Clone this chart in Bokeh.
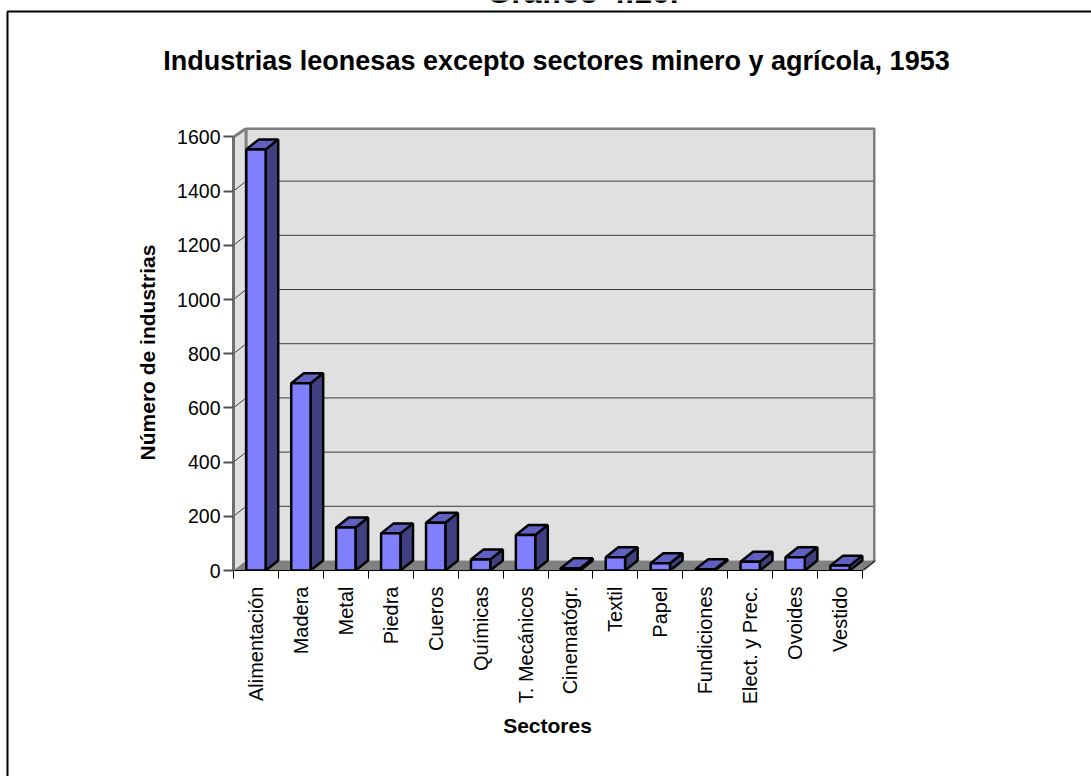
from math import pi

from bokeh.plotting import figure
from bokeh.models import Range1d, LinearAxis, FixedTicker
from bokeh.core.properties import value
from bokeh.embed import file_html
from bokeh.resources import INLINE

FONT = "Liberation Sans"

sectors = ["Alimentación", "Madera", "Metal", "Piedra", "Cueros", "Químicas", "T. Mecánicos",
           "Cinematógr.", "Textil", "Papel", "Fundiciones", "Elect. y Prec.", "Ovoides", "Vestido"]
industries = [1554, 691, 159, 137, 176, 41, 131, 8, 49, 27, 5, 32, 49, 18]
y_ticks = [0, 200, 400, 600, 800, 1000, 1200, 1400, 1600]

W, H = 1091, 776

# Pixel geometry of the pseudo-3D plot box
LEFT, RIGHT, TOP, BOTTOM = 233, 875, 127, 570.5
px_per_cat = 44.93
px_per_val = 0.2713
depth_x = 12.6 / px_per_cat       # receding offset, in category units
depth_y = 10.0 / px_per_val       # receding offset, in value units
bar_w = 0.43

n = len(sectors)
x_end = (RIGHT - LEFT) / px_per_cat
y_end = (BOTTOM - TOP) / px_per_val

# Page layer: sheet edges, caption, chart title and axis titles, in page pixels
page = figure(width=W, height=H, output_backend="svg", toolbar_location=None,
              x_range=Range1d(0, W), y_range=Range1d(H, 0),
              x_axis_type=None, y_axis_type=None, min_border=0,
              outline_line_color=None, background_fill_color="white", border_fill_color="white")
page.grid.visible = False
page.line([7, 7, W], [H, 11, 11], line_color="black", line_width=2)


def page_text(x, y, text, size, angle=0):
    page.text([x], [y], text=[text], text_font=value(FONT), text_font_size=size, angle=angle,
              text_font_style="bold", text_align="center", text_baseline="middle", text_color="black")


page.text([582], [-9], text=["Gráfico 4.16."], text_font=value(FONT), text_font_size="32px",
          text_font_style="bold", text_align="center", text_baseline="alphabetic", text_color="black")
page_text(556, 60, "Industrias leonesas excepto sectores minero y agrícola, 1953", "27px")
page_text(147, 352, "Número de industrias", "21px", angle=pi / 2)
page_text(547, 725, "Sectores", "21px")

# Chart layer, laid over the page with a transparent background
p = figure(width=W, height=H, output_backend="svg", toolbar_location=None,
           x_range=Range1d(0, x_end), y_range=Range1d(0, y_end),
           x_axis_type=None, y_axis_type=None,
           min_border_left=LEFT, min_border_right=W - RIGHT,
           min_border_top=TOP, min_border_bottom=H - int(BOTTOM),
           frame_width=RIGHT - LEFT, frame_height=int(BOTTOM) - TOP,
           outline_line_color=None, background_fill_color=None, border_fill_color=None,
           styles={"position": "absolute", "left": "0px", "top": "0px"})
p.grid.visible = False

# Side wall, back wall and floor
p.patch([0, depth_x, depth_x, 0], [0, depth_y, y_end, 1600], fill_color="#E0E0E0", line_color=None)
p.quad(left=[depth_x], right=[x_end], bottom=[depth_y], top=[y_end], fill_color="#E0E0E0", line_color=None)
p.patch([0, depth_x, x_end, n], [0, depth_y, depth_y, 0], fill_color="#808080", line_color=None)

# Gridlines run up the side wall, then along the back wall
grid = [t for t in y_ticks if 0 < t < 1600]
p.multi_line([[0, depth_x, x_end] for _ in grid],
             [[t, t + depth_y, t + depth_y] for t in grid], line_color="#3C3C3C", line_width=1)

# Wall edges
p.line([0, depth_x, depth_x], [1600, y_end - 1 / px_per_val, depth_y],
       line_color="#808080", line_width=3)
p.line([depth_x, x_end - 1 / px_per_cat, x_end - 1 / px_per_cat, n],
       [y_end - 1 / px_per_val, y_end - 1 / px_per_val, depth_y, 0],
       line_color="#808080", line_width=3)
p.line([n, x_end], [0, depth_y], line_color="#000000", line_width=1)

# Bars: right-hand faces, top faces, front faces
lefts = [i + 0.5 - bar_w / 2 for i in range(n)]
rights = [l + bar_w for l in lefts]
side_xs = [[r, r + depth_x, r + depth_x, r] for r in rights]
side_ys = [[0, depth_y, v + depth_y, v] for v in industries]
top_xs = [[l, l + depth_x, r + depth_x, r] for l, r in zip(lefts, rights)]
top_ys = [[v, v + depth_y, v + depth_y, v] for v in industries]

p.patches(side_xs, side_ys, fill_color="#404080", line_color="black", line_width=2.5)
p.patches(top_xs, top_ys, fill_color="#6060C0", line_color="black", line_width=2.5)
p.quad(left=lefts, right=rights, bottom=[0] * n, top=industries,
       fill_color="#8080FF", line_color="black", line_width=2.5)

# Value axis
yax = LinearAxis(ticker=FixedTicker(ticks=y_ticks), bounds=(0, 1600),
                 major_label_text_font=FONT,
                 major_label_text_font_size="19.5px", major_label_text_color="black",
                 major_tick_in=0, major_tick_out=10, minor_tick_line_color=None,
                 axis_line_color="#707070", axis_line_width=3, major_tick_line_color="#505050",
                 major_tick_line_width=2, major_label_standoff=3)
p.add_layout(yax, "left")

# Category axis: labels sit at bar centres, ticks at category boundaries
centres = [i + 0.5 for i in range(n)]
xax = LinearAxis(ticker=FixedTicker(ticks=centres, minor_ticks=list(range(n + 1))), bounds=(0, n),
                 major_label_overrides={c: s for c, s in zip(centres, sectors)},
                 major_label_text_font=FONT,
                 major_label_text_font_size="20px", major_label_text_color="black",
                 major_label_orientation=1.5708, major_tick_line_color=None,
                 major_tick_in=0, major_tick_out=8, minor_tick_in=0, minor_tick_out=8,
                 minor_tick_line_color="black", axis_line_color="black", axis_line_width=1,
                 major_label_standoff=8)
p.add_layout(xax, "below")

open("out.html", "w").write(file_html([page, p], INLINE))
